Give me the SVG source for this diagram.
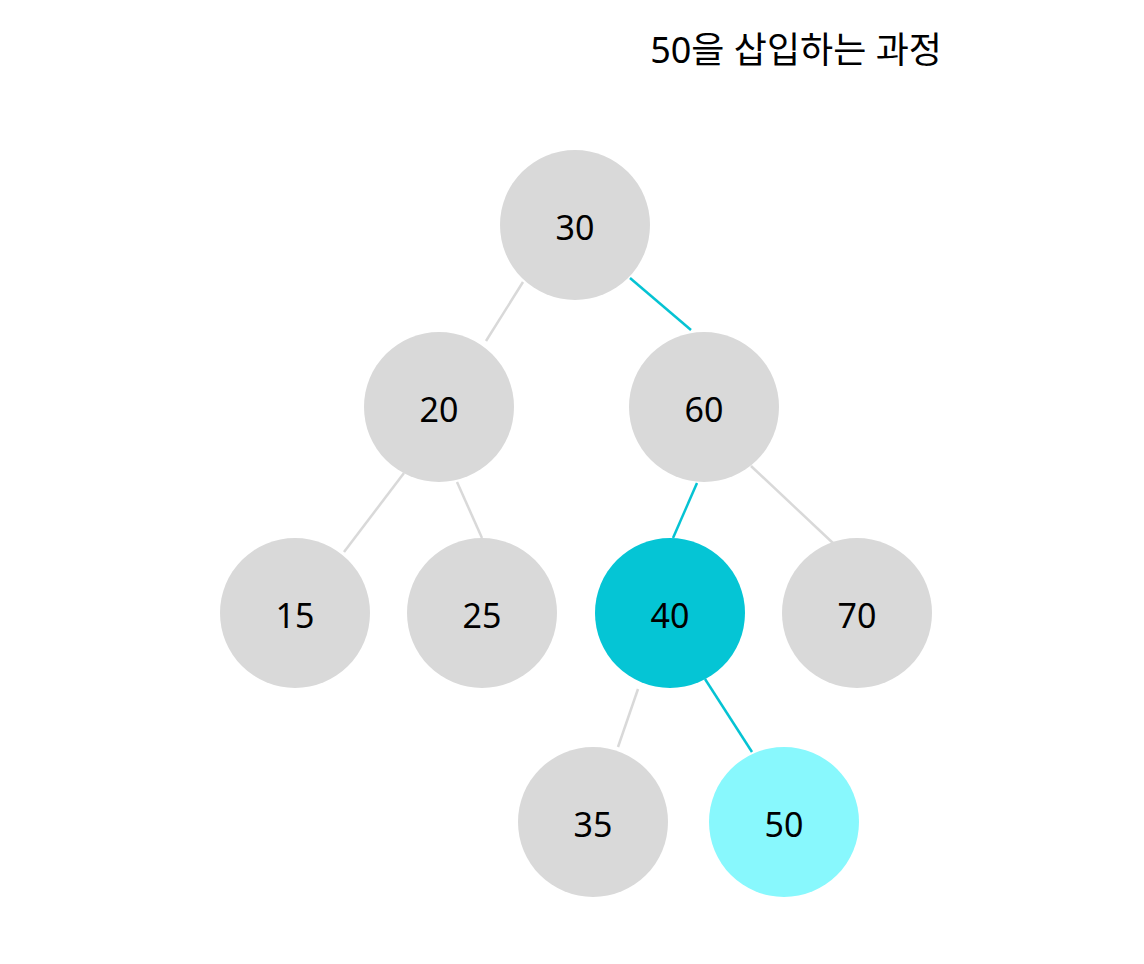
<svg xmlns="http://www.w3.org/2000/svg" width="1144" height="964" viewBox="0 0 1144 964">
<style>
text{font-family:"Noto Sans","Noto Sans CJK KR",sans-serif;font-size:34px;fill:#000;text-anchor:middle}
.n{fill:#d9d9d9}
.e{stroke:#d9d9d9;stroke-width:2.5;fill:none}
.h{stroke:#05c3d3;stroke-width:2.5;fill:none}
</style>
<rect width="1144" height="964" fill="#fff"/>
<text x="796" y="63" style="font-size:36px">50을 삽입하는 과정</text>
<g id="connectors">
<line class="e" x1="523" y1="282" x2="486" y2="341"/>
<line class="h" x1="630" y1="278" x2="691" y2="330"/>
<line class="e" x1="404" y1="473" x2="344" y2="552"/>
<line class="e" x1="457" y1="482" x2="482" y2="538"/>
<line class="h" x1="697" y1="483" x2="673" y2="538"/>
<line class="e" x1="751" y1="466" x2="834" y2="544"/>
<line class="e" x1="638" y1="689" x2="618" y2="747"/>
<line class="h" x1="705" y1="679" x2="752" y2="752"/>
</g>
<g id="n30"><circle class="n" cx="575" cy="225" r="75"/><text x="575" y="240">30</text></g>
<g id="n20"><circle class="n" cx="439" cy="407" r="75"/><text x="439" y="422">20</text></g>
<g id="n60"><circle class="n" cx="704" cy="407" r="75"/><text x="704" y="422">60</text></g>
<g id="n15"><circle class="n" cx="295" cy="613" r="75"/><text x="295" y="628">15</text></g>
<g id="n25"><circle class="n" cx="482" cy="613" r="75"/><text x="482" y="628">25</text></g>
<g id="n40"><circle cx="670" cy="613" r="75" fill="#05c5d5"/><text x="670" y="628">40</text></g>
<g id="n70"><circle class="n" cx="857" cy="613" r="75"/><text x="857" y="628">70</text></g>
<g id="n35"><circle class="n" cx="593" cy="822" r="75"/><text x="593" y="837">35</text></g>
<g id="n50"><circle cx="784" cy="822" r="75" fill="#88f8fd"/><text x="784" y="837">50</text></g>
</svg>
